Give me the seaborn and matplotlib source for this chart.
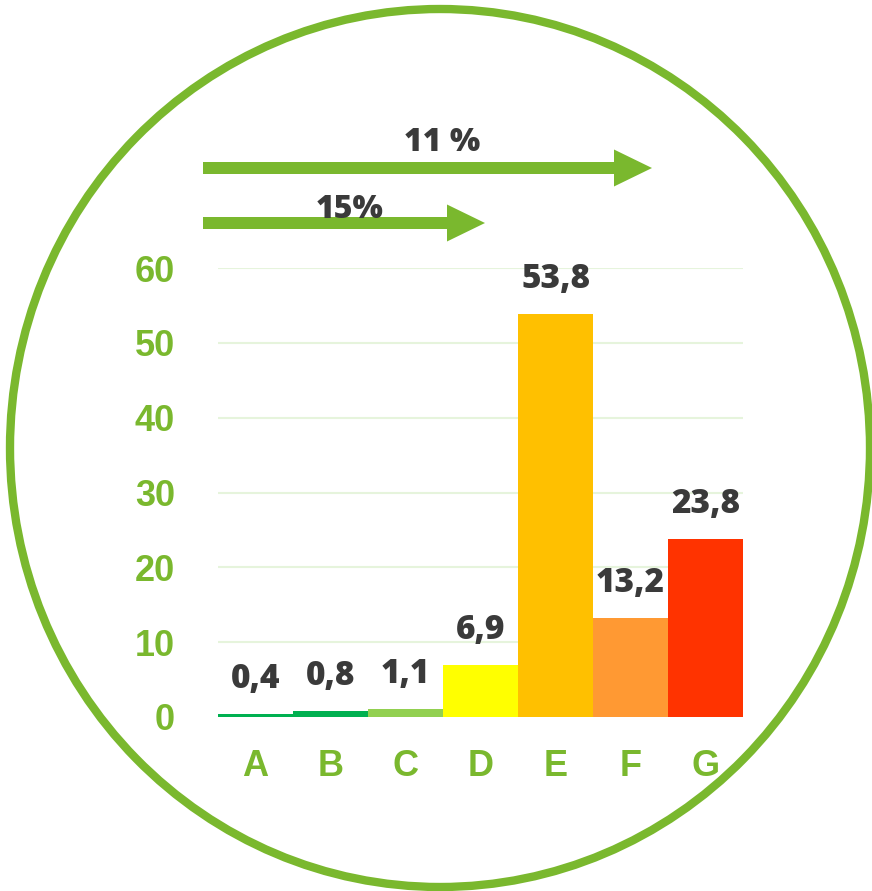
import matplotlib
matplotlib.use("Agg")
import matplotlib.pyplot as plt
import seaborn as sns
import pandas as pd
from matplotlib.patches import Ellipse, FancyArrow

# data
categories = ["A", "B", "C", "D", "E", "F", "G"]
values = [0.4, 0.8, 1.1, 6.9, 53.8, 13.2, 23.8]
value_labels = ["0,4", "0,8", "1,1", "6,9", "53,8", "13,2", "23,8"]
bar_colors = ["#00b050", "#00b050", "#92d050", "#ffff00", "#ffc000", "#ff9933", "#ff3300"]
arrow_labels = ["11 %", "15%"]

GREEN = "#7ab82e"
DARK = "#3a3a3a"
LABEL_FONT = ["Open Sans", "DejaVu Sans"]

sns.set_theme(style="white")
plt.rcParams["font.family"] = ["Liberation Sans", "DejaVu Sans"]

df = pd.DataFrame({"cat": categories, "val": values})

fig = plt.figure(figsize=(8.72, 8.91), dpi=100)
ax = fig.add_axes([218 / 872, 1 - 717 / 891, (743 - 218) / 872, (717 - 268) / 891])

sns.barplot(data=df, x="cat", y="val", hue="cat", palette=bar_colors,
            width=1.0, legend=False, ax=ax, saturation=1, linewidth=0)

ax.set_ylim(0, 60)
ax.set_xlim(-0.5, 6.5)
ax.set_yticks(range(0, 70, 10))
for y in range(0, 70, 10):
    ax.axhline(y, color="#e6f4dc", linewidth=1.5, zorder=0)
for s in ax.spines.values():
    s.set_visible(False)
ax.set_xlabel("")
ax.set_ylabel("")
ax.tick_params(axis="y", length=0, pad=31, labelsize=26, labelcolor=GREEN)
ax.tick_params(axis="x", length=0, pad=23, labelsize=26, labelcolor=GREEN)
for lab in ax.get_xticklabels() + ax.get_yticklabels():
    lab.set_fontweight("bold")

# value labels
for i, (v, t) in enumerate(zip(values, value_labels)):
    ax.annotate(t, (i, v), xytext=(0, 13), textcoords="offset points",
                ha="center", va="bottom", fontsize=24, fontweight="heavy",
                color=DARK, family=LABEL_FONT, annotation_clip=False)

# overlay in pixel coords for circle and arrows
ov = fig.add_axes([0, 0, 1, 1], facecolor="none")
ov.set_xlim(0, 872)
ov.set_ylim(891, 0)
ov.axis("off")

ov.add_patch(Ellipse((440, 448), 860, 878, fill=False, edgecolor=GREEN, linewidth=6))

ov.add_patch(FancyArrow(203, 168, 449, 0, width=12, head_width=37, head_length=38,
                        length_includes_head=True, color=GREEN, linewidth=0))
ov.add_patch(FancyArrow(203, 223, 282, 0, width=12, head_width=37, head_length=38,
                        length_includes_head=True, color=GREEN, linewidth=0))
ov.text(442, 143, arrow_labels[0], ha="center", va="center", fontsize=23,
        fontweight="heavy", color=DARK, family=LABEL_FONT)
ov.text(350, 210, arrow_labels[1], ha="center", va="center", fontsize=23,
        fontweight="heavy", color=DARK, family=LABEL_FONT)

fig.savefig("out.png", dpi=100)
